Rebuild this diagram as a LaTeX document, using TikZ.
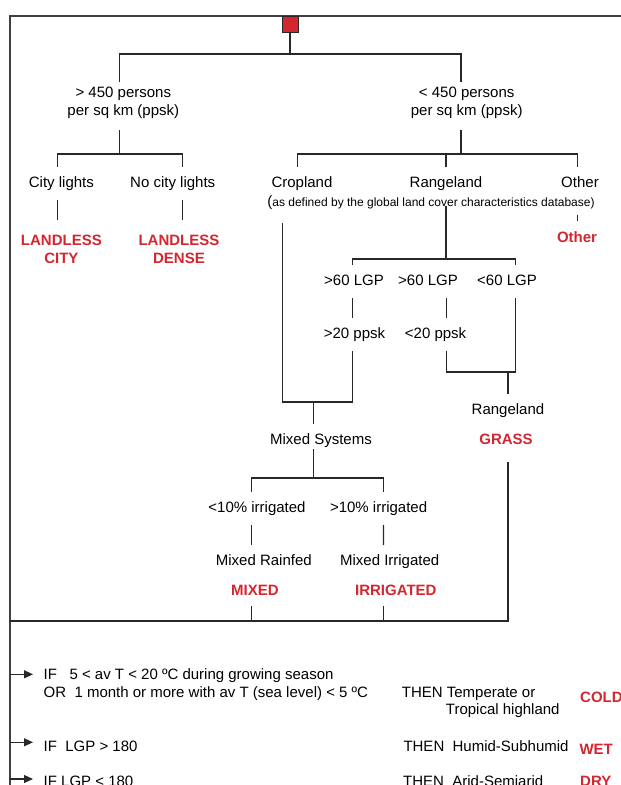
\documentclass[tikz,border=0pt]{standalone}
\usepackage{fontspec}
\setmainfont{Liberation Sans}
\usetikzlibrary{arrows.meta}
\definecolor{clsred}{RGB}{212,38,48}
\definecolor{linegray}{RGB}{40,40,40}

\begin{document}
\begin{tikzpicture}[
  x=1pt, y=-1pt,
  lbl/.style={font=\fontsize{15}{18}\selectfont, inner xsep=1pt, inner ysep=9pt,
              text height=11pt, text depth=3.2pt},
  lbltwo/.style={font=\fontsize{15}{18}\selectfont, align=center,
                 inner xsep=1pt, inner ysep=8pt},
  cls/.style={font=\fontsize{15}{18}\selectfont\bfseries, text=clsred,
              inner xsep=1pt, inner ysep=10.5pt, text height=11pt, text depth=3.2pt},
  clstwo/.style={font=\fontsize{15}{18}\selectfont\bfseries, text=clsred,
                 align=center, inner xsep=1pt, inner ysep=14.6pt},
  note/.style={font=\fontsize{12}{14}\selectfont, inner sep=0pt},
  tree/.style={draw=linegray, line width=1.2pt},
  frame/.style={draw=black!75, line width=1.8pt},
  arr/.style={tree, -{Triangle[length=9pt, width=8pt]}, shorten >=9.5pt}
]
\useasboundingbox (0,0) rectangle (621,785);
\clip (0,0) rectangle (621,785);

%--- frame and root ----------------------------------------------------------
\draw[frame] (640,16) -| (10,800);
\node[draw=linegray, line width=0.8pt, fill=clsred, minimum width=16pt,
      minimum height=16pt, inner sep=0pt] (root) at (290,24) {};
\coordinate (j1) at (290,54);
\coordinate (j2) at (119.5,154);
\coordinate (j3) at (461,154);
\coordinate (j4) at (446,259);
\coordinate (j5) at (313.7,402);
\coordinate (j6) at (508,372);
\coordinate (j7) at (313.7,478);
\coordinate (jb) at (10,621);

%--- population density ------------------------------------------------------
\node[lbltwo] (hi) at (123.3,102.9) {> 450 persons\\per sq km (ppsk)};
\node[lbltwo] (lo) at (466.7,102.9) {< 450 persons\\per sq km (ppsk)};
\draw[tree] (root.south) -- (j1);
\draw[tree, shorten <=-3pt, shorten >=-3pt]
  ([xshift=-3.8pt]hi.north) |- (j1) -| ([xshift=-5.7pt]lo.north);
\draw[tree, shorten <=3pt] ([xshift=-3.8pt]hi.south) -- (j2);
\draw[tree, shorten <=3pt] ([xshift=-5.7pt]lo.south) -- (j3);

%--- landless ----------------------------------------------------------------
\node[lbl] (cl) at (61.4,183.2) {City lights};
\node[lbl] (ncl) at (172.7,183.2) {No city lights};
\draw[tree] ([xshift=-4pt]cl.north) |- (j2) -| ([xshift=9.5pt]ncl.north);
\node[clstwo] (lcity) at (61.4,249) {LANDLESS\\CITY};
\node[clstwo] (ldense) at (179,249) {LANDLESS\\DENSE};
\draw[tree] ([xshift=-4pt]cl.south) -- ([xshift=-4pt]lcity.north);
\draw[tree] ([xshift=9.5pt]ncl.south) -- ([xshift=3.2pt]ldense.north);

%--- land cover --------------------------------------------------------------
\node[lbl] (crop) at (302,183.2) {Cropland};
\node[lbl] (rl) at (446,183.2) {Rangeland};
\node[lbl] (oth) at (580,183.2) {Other};
\node[note] (def) at (431,203)
  {{\fontsize{15}{15}\selectfont(}as defined by the global land cover characteristics database)};
\draw[tree] ([xshift=-4.2pt]crop.north) |- (j3) -| ([xshift=-2.6pt]oth.north);
\draw[tree] (rl.north) -- (j3 -| rl.north);
\node[cls] (ocls) at (577,238.5) {Other};
\draw[tree, shorten <=15pt] ([xshift=-2.6pt]oth.south) -- ([xshift=0.4pt]ocls.north);

%--- growing period and density ----------------------------------------------
\node[lbl] (g1) at (354,281.5) {>60 LGP};
\node[lbl] (g2) at (428,281.5) {>60 LGP};
\node[lbl] (g3) at (507,281.5) {<60 LGP};
\draw[tree, shorten <=6pt] (rl.south) -- (j4);
\draw[tree] ([xshift=-1.5pt]g1.north) |- (j4) -| ([xshift=8.6pt]g3.north);
\node[lbl] (d1) at (354.5,334.5) {>20 ppsk};
\node[lbl] (d2) at (435.6,334.5) {<20 ppsk};
\draw[tree] ([xshift=-1.5pt]g1.south) -- ([xshift=-2pt]d1.north);
\draw[tree] ([xshift=18.3pt]g2.south) -- ([xshift=10.7pt]d2.north);

%--- mixed / grass -----------------------------------------------------------
\draw[tree, shorten <=23.7pt]
  ([xshift=-19.6pt]crop.south) |- (j5) -| ([xshift=-2pt]d1.south);
\node[lbl] (mix) at (321,440.5) {Mixed Systems};
\draw[tree] (j5) -- ([xshift=-7.3pt]mix.north);
\draw[tree] ([xshift=10.7pt]d2.south) |- (j6) -| ([xshift=8.6pt]g3.south);
\node[lbl] (rl2) at (508,410.5) {Rangeland};
\draw[tree] (j6) -- (rl2.north);
\node[cls] (grass) at (506,440.5) {GRASS};

%--- irrigation --------------------------------------------------------------
\draw[tree, shorten <=-8pt] ([xshift=-7.3pt]mix.south) -- (j7);
\node[lbl] (ir1) at (257,508.5) {<10\% irrigated};
\node[lbl] (ir2) at (378.6,508.5) {>10\% irrigated};
\draw[tree] ([xshift=-5.5pt]ir1.north) |- (j7) -| ([xshift=4.8pt]ir2.north);
\node[lbl] (mr) at (263.8,561.5) {Mixed Rainfed};
\node[lbl] (mi) at (389.7,561.5) {Mixed Irrigated};
\draw[tree] ([xshift=-5.5pt]ir1.south) -- ([xshift=-12.3pt]mr.north);
\draw[tree] ([xshift=4.8pt]ir2.south) -- ([xshift=-6.3pt]mi.north);
\node[cls] (mixed) at (254.9,591.5) {MIXED};
\node[cls] (irr) at (395.8,591.5) {IRRIGATED};

%--- collector ---------------------------------------------------------------
\draw[tree, shorten <=4pt] ([xshift=2pt]grass.south) |- (jb);
\draw[tree, shorten <=-3pt] ([xshift=-3.4pt]mixed.south) -- ([xshift=-3.4pt]mixed.south |- jb);
\draw[tree, shorten <=-3pt] ([xshift=-12.4pt]irr.south) -- ([xshift=-12.4pt]irr.south |- jb);

%--- climate rules -----------------------------------------------------------
\node[lbl, anchor=west] (if1) at (42.5,675.5) {IF\ \ \ 5 < av T < 20 ºC during growing season};
\node[lbl, anchor=west] (or1) at (42.5,693.2) {OR\ \ 1 month or more with av T (sea level) < 5 ºC};
\node[lbl, anchor=west] (then1) at (400.7,693.2) {THEN Temperate or};
\node[lbl, anchor=west] (trop) at (444.7,710.5) {Tropical highland};
\node[cls, anchor=west] (cold) at (579,698.2) {COLD};
\node[lbl, anchor=west] (if2) at (42.5,747.2) {IF\ \ LGP > 180};
\node[lbl, anchor=west] (then2) at (402.3,747.2) {THEN\ \ Humid-Subhumid};
\node[cls, anchor=west] (wet) at (578.3,750.8) {WET};
\node[lbl, anchor=west] (if3) at (42.5,783) {IF LGP < 180};
\node[lbl, anchor=west] (then3) at (402,783) {THEN\ \ Arid-Semiarid};
\node[cls, anchor=west] (dry) at (579,783) {DRY};
\foreach \r/\s in {if1/1.2, if2/4.9, if3/4}
  \draw[arr] ([yshift=\s pt]\r.west -| jb) -- ([yshift=\s pt]\r.west);
\end{tikzpicture}
\end{document}
